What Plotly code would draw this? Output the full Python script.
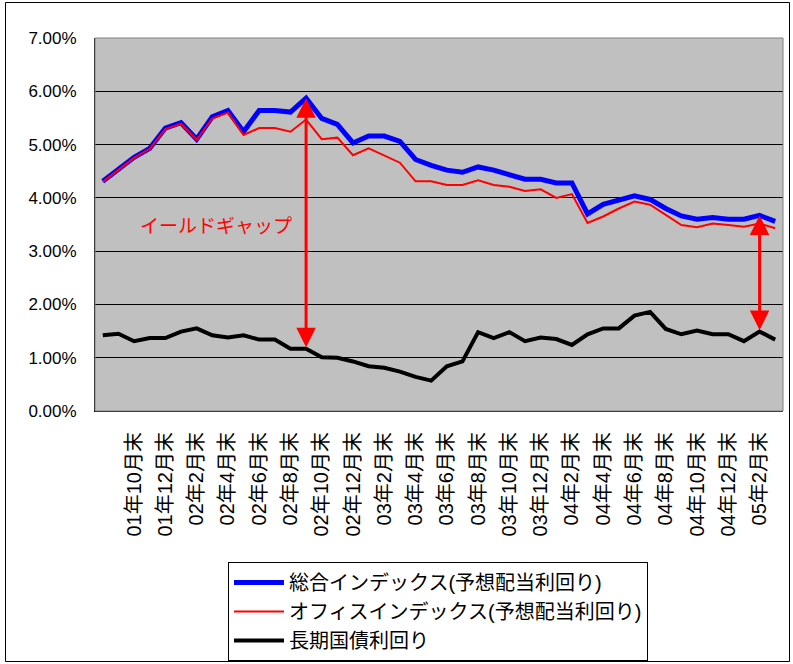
import plotly.graph_objects as go

categories = [
    "01年8月末", "01年9月末", "01年10月末", "01年11月末", "01年12月末",
    "02年1月末", "02年2月末", "02年3月末", "02年4月末", "02年5月末", "02年6月末",
    "02年7月末", "02年8月末", "02年9月末", "02年10月末", "02年11月末", "02年12月末",
    "03年1月末", "03年2月末", "03年3月末", "03年4月末", "03年5月末", "03年6月末",
    "03年7月末", "03年8月末", "03年9月末", "03年10月末", "03年11月末", "03年12月末",
    "04年1月末", "04年2月末", "04年3月末", "04年4月末", "04年5月末", "04年6月末",
    "04年7月末", "04年8月末", "04年9月末", "04年10月末", "04年11月末", "04年12月末",
    "05年1月末", "05年2月末", "05年3月末",
]

sogo = [4.31, 4.53, 4.76, 4.93, 5.31, 5.41, 5.10, 5.52, 5.64, 5.24, 5.64,
        5.64, 5.61, 5.87, 5.49, 5.38, 5.03, 5.16, 5.16, 5.06, 4.72, 4.61,
        4.52, 4.48, 4.58, 4.52, 4.43, 4.35, 4.35, 4.28, 4.28, 3.70, 3.88,
        3.96, 4.04, 3.97, 3.80, 3.66, 3.60, 3.63, 3.60, 3.60, 3.67, 3.56]

office = [4.30, 4.52, 4.75, 4.92, 5.29, 5.39, 5.09, 5.49, 5.60, 5.18, 5.31,
          5.31, 5.24, 5.47, 5.10, 5.13, 4.80, 4.93, 4.79, 4.66, 4.31, 4.31,
          4.24, 4.24, 4.33, 4.24, 4.21, 4.13, 4.16, 4.00, 4.07, 3.53, 3.65,
          3.80, 3.93, 3.87, 3.68, 3.49, 3.45, 3.52, 3.49, 3.46, 3.52, 3.43]

jgb = [1.42, 1.45, 1.31, 1.37, 1.37, 1.49, 1.55, 1.42, 1.38, 1.42, 1.34,
       1.34, 1.17, 1.17, 1.01, 1.00, 0.93, 0.84, 0.81, 0.74, 0.64, 0.57,
       0.84, 0.93, 1.48, 1.37, 1.48, 1.31, 1.38, 1.35, 1.24, 1.44, 1.55,
       1.55, 1.79, 1.86, 1.54, 1.44, 1.51, 1.44, 1.44, 1.31, 1.49, 1.34]

tick_labels = categories[2::2]
series_names = ["総合インデックス(予想配当利回り)", "オフィスインデックス(予想配当利回り)", "長期国債利回り"]
gap_label = "イールドギャップ"
gap_points = ["02年9月末", "05年2月末"]

FONT = "Arial, 'Liberation Sans', 'Noto Sans CJK JP', sans-serif"

W, H = 793, 664
L, R, T, B = 95, 10, 38, 253
PW, PH = W - L - R, H - T - B


def px_x(px):
    return (px - L) / PW


def px_y(py):
    return (H - B - py) / PH


fig = go.Figure()
fig.add_trace(go.Scatter(x=categories, y=sogo, name=series_names[0], mode="lines",
                         line=dict(color="#0000FF", width=5)))
fig.add_trace(go.Scatter(x=categories, y=office, name=series_names[1], mode="lines",
                         line=dict(color="#FF0000", width=2)))
fig.add_trace(go.Scatter(x=categories, y=jgb, name=series_names[2], mode="lines",
                         line=dict(color="#000000", width=4)))

annotations = []
for c in gap_points:
    i = categories.index(c)
    annotations.append(dict(
        x=i, y=sogo[i], ax=i, ay=jgb[i], xref="x", yref="y", axref="x", ayref="y",
        showarrow=True, arrowhead=2, startarrowhead=2, arrowside="end+start",
        arrowsize=1.3, startarrowsize=1.3, arrowwidth=3, arrowcolor="#FF0000",
        standoff=0, startstandoff=0, text=""))
annotations.append(dict(x=px_x(216), y=px_y(226), xref="paper", yref="paper",
                        xanchor="center", yanchor="middle",
                        text=gap_label, showarrow=False,
                        font=dict(family=FONT, size=19, color="#FF0000")))
fig.update_layout(annotations=annotations)

fig.update_layout(
    width=W, height=H,
    margin=dict(l=L, r=R, t=T, b=B, autoexpand=False),
    paper_bgcolor="white", plot_bgcolor="#C0C0C0",
    font=dict(family=FONT, size=17, color="black"),
    showlegend=True,
    legend=dict(x=px_x(228), y=px_y(562), xanchor="left", yanchor="top",
                bgcolor="white", bordercolor="black", borderwidth=1,
                font=dict(family=FONT, size=20), itemwidth=50,
                tracegroupgap=0),
    xaxis=dict(type="category", categoryorder="array", categoryarray=categories,
               range=[-0.5, len(categories) - 0.5], automargin=False,
               tickmode="array", tickvals=tick_labels, ticktext=tick_labels,
               tickangle=-90, ticks="", showgrid=False, showline=True,
               linecolor="black", linewidth=1, tickfont=dict(size=20),
               ticklabelstandoff=12),
    xaxis2=dict(overlaying="x", anchor="y", side="bottom", type="linear",
                range=[-0.5, len(categories) - 0.5], automargin=False,
                tickmode="array", tickvals=[i - 0.5 for i in range(len(categories) + 1)],
                ticks="inside", ticklen=6, tickcolor="black", showticklabels=False,
                showgrid=False, showline=False, zeroline=False),
    yaxis=dict(range=[0, 7], dtick=1, tickformat=".2f", ticksuffix="%",
               automargin=False,
               showgrid=True, gridcolor="black", gridwidth=1, zeroline=False,
               showline=True, linecolor="black", linewidth=1,
               ticks="inside", ticklen=5, tickcolor="black",
               ticklabelstandoff=14, tickfont=dict(size=17)),
)

fig.add_shape(type="rect", xref="paper", yref="paper", x0=0, x1=1, y0=0, y1=1,
              line=dict(color="#808080", width=1), fillcolor="rgba(0,0,0,0)")
fig.add_shape(type="rect", xref="paper", yref="paper",
              x0=px_x(5.5), x1=px_x(789.5), y0=px_y(661.5), y1=px_y(2.5),
              line=dict(color="black", width=1), fillcolor="rgba(0,0,0,0)")

fig.write_html("out.html", config={"displayModeBar": False},
               post_script="document.body.style.margin='0';document.body.style.overflow='hidden';")
